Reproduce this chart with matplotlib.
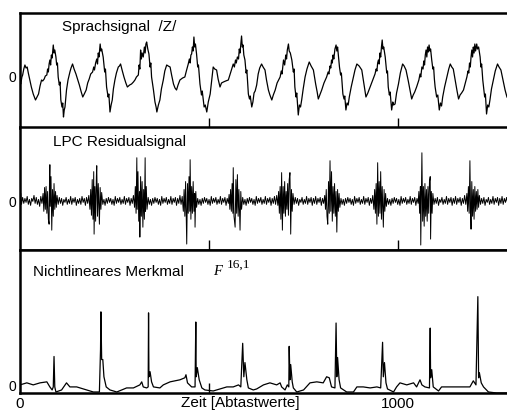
import numpy as np
import matplotlib
matplotlib.use("Agg")
import matplotlib.pyplot as plt
from matplotlib.ticker import FixedLocator, NullFormatter

plt.rcParams['font.family'] = ['Liberation Sans', 'DejaVu Sans']

# ---------------- data (sample index, amplitude) ----------------
speech = [(0,-5),(2,-7),(5,0),(7,2),(10,8),(13,12),(16,9),(19,10),(22,4),(26,-3),(30,-10),(35,-17),(38,-20),(41,-23),(45,-20),(49,-17),(53,-9),(57,-3),(60,-4),(64,-2),(67,1),(71,2),(73,8),(75,5),(77,13),(79,17),(81,12),(83,22),(85,19),(88,32),(90,24),(92,27),(95,20),(97,12),(99,14),(101,0),(104,-8),(106,-5),(108,-23),(111,-30),(113,-26),(115,-40),(117,-33),(119,-30),(123,-13),(127,-3),(132,5),(135,9),(139,13),(143,8),(148,3),(152,-2),(157,-8),(162,-15),(166,-20),(170,-17),(175,-13),(179,-6),(183,-2),(187,3),(192,5),(195,10),(197,7),(200,14),(203,18),(205,13),(207,24),(209,20),(212,33),(214,26),(216,28),(220,20),(224,5),(226,8),(229,-10),(233,-20),(235,-17),(238,-35),(241,-28),(244,-23),(247,-12),(251,-3),(255,4),(260,10),(263,11),(266,13),(270,7),(275,0),(280,-6),(284,-10),(290,-8),(295,-7),(300,-5),(304,-3),(308,0),(313,2),(315,12),(317,8),(319,27),(321,18),(323,24),(326,20),(329,30),(331,24),(333,33),(335,35),(338,28),(341,23),(344,10),(346,14),(348,0),(351,-8),(353,-13),(357,-25),(360,-30),(362,-35),(366,-28),(370,-23),(374,-12),(379,-3),(383,6),(388,12),(392,11),(397,10),(401,2),(406,-7),(410,-11),(414,-13),(418,-8),(423,-3),(430,-1),(436,0),(440,6),(445,13),(448,18),(450,14),(452,22),(454,23),(456,30),(458,26),(460,40),(462,30),(464,33),(467,23),(470,10),(472,12),(476,-7),(480,-18),(482,-14),(487,-30),(490,-28),(494,-35),(498,-25),(503,-17),(507,-3),(511,10),(515,8),(520,7),(524,-2),(529,-10),(533,-6),(538,-5),(544,-4),(551,-3),(556,3),(560,8),(564,13),(567,10),(570,17),(572,14),(575,20),(578,18),(580,28),(582,24),(584,33),(586,41),(588,30),(590,32),(592,22),(595,17),(598,4),(600,7),(604,-17),(607,-22),(609,-19),(613,-30),(616,-25),(619,-16),(622,-14),(626,-8),(630,3),(634,9),(639,13),(643,10),(648,7),(652,-3),(657,-13),(661,-18),(666,-23),(670,-18),(675,-13),(680,-6),(684,-3),(688,0),(691,6),(693,3),(697,17),(700,12),(703,22),(705,18),(707,27),(710,33),(712,26),(715,24),(719,17),(723,5),(725,8),(727,-10),(730,-20),(732,-16),(736,-38),(739,-28),(742,-30),(745,-23),(749,-12),(754,0),(759,8),(765,15),(770,11),(776,7),(782,-7),(786,-15),(789,-22),(793,-18),(798,-13),(804,-6),(811,0),(815,5),(817,3),(820,11),(822,9),(824,17),(826,14),(828,22),(830,18),(833,28),(836,32),(838,26),(840,30),(843,18),(845,10),(848,2),(850,4),(854,-17),(857,-22),(859,-19),(862,-33),(865,-26),(868,-28),(871,-20),(876,-10),(882,0),(886,7),(891,13),(897,11),(904,7),(909,-5),(915,-20),(920,-16),(926,-10),(932,-4),(939,3),(942,8),(944,6),(946,14),(948,17),(950,13),(952,24),(954,20),(956,30),(958,37),(960,28),(962,30),(966,20),(968,12),(970,4),(972,6),(974,-10),(977,-18),(979,-15),(983,-33),(986,-25),(988,-28),(992,-27),(996,-16),(1001,-7),(1006,4),(1012,13),(1016,11),(1021,7),(1027,-4),(1032,-14),(1036,-22),(1040,-18),(1044,-15),(1049,-10),(1055,-3),(1058,3),(1060,0),(1063,10),(1066,8),(1068,16),(1070,12),(1072,22),(1074,27),(1076,20),(1078,30),(1080,25),(1082,32),(1084,26),(1086,28),(1089,17),(1092,8),(1094,10),(1096,-2),(1098,-10),(1102,-20),(1105,-18),(1109,-33),(1112,-26),(1115,-29),(1118,-20),(1123,-10),(1129,0),(1134,8),(1138,13),(1142,10),(1146,8),(1151,-3),(1156,-14),(1160,-22),(1164,-18),(1168,-16),(1173,-13),(1178,-6),(1182,0),(1185,6),(1187,4),(1189,14),(1191,10),(1193,20),(1195,27),(1197,20),(1199,30),(1201,24),(1203,33),(1205,26),(1208,33),(1210,28),(1213,30),(1217,20),(1219,10),(1221,13),(1224,-3),(1226,-10),(1229,-20),(1231,-17),(1234,-37),(1237,-28),(1240,-30),(1243,-23),(1247,-12),(1252,-3),(1257,6),(1263,13),(1267,10),(1272,7),(1277,-2),(1283,-13),(1288,-20),(1292,-22)]

residual = [(0,0),(2,8),(4,-3),(7,4),(10,-2),(13,3),(16,-1),(19,5),(22,-3),(25,2),(28,-4),(31,3),(34,0),(37,6),(40,-2),(43,4),(46,-3),(49,2),(52,-5),(55,5),(58,-2),(61,8),
(63,-10),(65,14),(67,-8),(69,15),(71,-12),(73,10),(75,-18),(77,-23),(78,20),(79,37),(80,-5),(82,25),(84,-29),(86,12),(88,-15),(90,18),(92,-8),(94,10),(96,-6),(98,6),
(101,-3),(104,4),(107,-2),(110,3),(113,-4),(116,2),(119,-1),(122,4),(125,-3),(128,2),(131,-2),(134,5),(137,-3),(140,3),(143,-1),(146,4),(149,-4),(152,2),(155,-2),(158,3),(161,-3),(164,5),(167,-1),(170,3),(173,-4),(176,4),(179,-2),(182,6),
(185,-8),(187,12),(189,-14),(191,22),(193,-18),(195,30),(196,-33),(198,15),(200,-20),(202,25),(203,36),(205,-15),(207,18),(209,-10),(210,-23),(212,14),(214,-8),(216,9),
(219,-3),(222,2),(225,-4),(228,3),(231,-2),(234,4),(237,-1),(240,3),(243,-3),(246,2),(249,-4),(252,5),(255,-2),(258,3),(261,-1),(264,4),(267,-3),(270,2),(273,-2),(276,5),(279,-3),(282,3),(285,-1),(288,4),(291,-4),(294,3),(297,-2),(300,6),
(303,-6),(305,15),(307,-12),(309,44),(310,-8),(312,30),(314,-20),(316,10),(317,-36),(319,25),(321,-15),(323,20),(325,-26),(327,12),(329,-18),(331,44),(332,-10),(334,15),(336,-8),
(339,4),(342,-3),(345,2),(348,-4),(351,3),(354,-2),(357,4),(360,-1),(363,3),(366,-3),(369,2),(372,-4),(375,5),(378,-2),(381,3),(384,-1),(387,4),(390,-3),(393,2),(396,-2),(399,5),(402,-3),(405,3),(408,-1),(411,4),(414,-4),(417,3),(420,-2),(423,6),(426,-3),(429,5),
(432,-10),(434,12),(436,-15),(438,20),(440,-25),(441,-43),(443,18),(445,-12),(447,25),(449,-10),(450,42),(452,-18),(454,15),(456,-12),(458,20),(460,-10),(462,8),(463,-26),(465,10),(467,-6),
(470,3),(473,-3),(476,2),(479,-4),(482,3),(485,-2),(488,4),(491,-1),(494,3),(497,-3),(500,2),(503,-4),(506,5),(509,-2),(512,3),(515,-1),(518,4),(521,-3),(524,2),(527,-2),(530,5),(533,-3),(536,3),(539,-1),(542,4),(545,-4),(548,3),(551,-2),(553,7),
(555,-8),(557,12),(559,-10),(561,18),(563,-12),(564,34),(566,-15),(569,-26),(571,22),(573,-12),(575,27),(577,-15),(579,12),(582,-29),(584,10),(586,-8),
(589,4),(592,-3),(595,2),(598,-4),(601,3),(604,-2),(607,4),(610,-1),(613,3),(616,-3),(619,2),(622,-4),(625,5),(628,-2),(631,3),(634,-1),(637,4),(640,-3),(643,2),(646,-2),(649,5),(652,-3),(655,3),(658,-1),(661,4),(664,-4),(667,3),(670,-2),(673,5),(676,-3),(679,6),(682,-4),
(684,10),(686,-12),(688,15),(690,-18),(692,29),(694,-29),(696,15),(698,-12),(700,20),(702,-15),(704,10),(706,-8),(708,18),(710,-14),(712,22),(714,29),(716,-33),(718,12),(720,-10),(722,8),
(725,-3),(728,4),(731,-2),(734,3),(737,-4),(740,2),(743,-1),(746,4),(749,-3),(752,2),(755,-2),(758,5),(761,-3),(764,3),(767,-1),(770,4),(773,-4),(776,3),(779,-2),(782,5),(785,-3),(788,3),(791,-1),(794,4),(797,-4),(800,3),(803,-2),(806,6),
(808,-8),(810,12),(812,-15),(814,-23),(816,20),(818,-12),(820,41),(822,-10),(824,30),(826,-20),(828,15),(830,-12),(832,18),(834,-15),(836,10),(838,-31),(840,12),(842,-10),(844,8),(846,-6),
(849,3),(852,-3),(855,2),(858,-4),(861,3),(864,-2),(867,4),(870,-1),(873,3),(876,-3),(879,2),(882,-4),(885,5),(888,-2),(891,3),(894,-1),(897,4),(900,-3),(903,2),(906,-2),(909,5),(912,-3),(915,3),(918,-1),(921,4),(924,-4),(927,3),(930,-2),(933,6),
(936,-8),(938,12),(940,-12),(942,18),(944,-23),(946,39),(948,-15),(950,20),(952,-12),(954,30),(956,-18),(958,15),(960,-10),(961,-26),(963,12),(965,-10),(967,8),(969,-5),
(972,3),(975,-3),(978,2),(981,-4),(984,3),(987,-2),(990,4),(993,-1),(996,3),(999,-3),(1002,2),(1005,-4),(1008,5),(1011,-2),(1014,3),(1017,-1),(1020,4),(1023,-3),(1026,2),(1029,-2),(1032,5),(1035,-3),(1038,3),(1041,-1),(1044,4),(1047,-4),(1050,3),(1053,-2),
(1055,10),(1057,-12),(1059,15),(1060,-44),(1062,20),(1063,49),(1065,-20),(1067,15),(1069,-25),(1071,18),(1073,-15),(1075,12),(1077,-20),(1079,15),(1081,-12),(1083,20),(1085,25),(1086,-38),(1088,10),(1090,-12),(1092,8),
(1095,-3),(1098,3),(1101,-2),(1104,4),(1107,-4),(1110,2),(1113,-1),(1116,4),(1119,-3),(1122,2),(1125,-2),(1128,5),(1131,-3),(1134,3),(1137,-1),(1140,4),(1143,-4),(1146,3),(1149,-2),(1152,5),(1155,-3),(1158,3),(1161,-1),(1164,4),(1167,-4),(1170,3),(1173,-2),(1176,6),(1179,-3),
(1182,8),(1184,-10),(1186,15),(1188,-12),(1190,41),(1192,-15),(1193,-28),(1195,20),(1197,-15),(1199,12),(1201,-18),(1203,15),(1205,-10),(1207,10),(1209,-8),(1211,12),(1213,-6),(1215,6),
(1218,-3),(1221,3),(1224,-2),(1227,4),(1230,-4),(1233,2),(1236,-1),(1239,4),(1242,-3),(1245,2),(1248,-2),(1251,5),(1254,-3),(1257,3),(1260,-1),(1263,4),(1266,-4),(1269,3),(1272,-2),(1275,5),(1278,-3),(1281,3),(1284,-1),(1287,4),(1290,-2)]

feature = [(0,1),(18,3),(35,1),(53,3),(71,4),(79,-1),(85,-4),(88,-1),(90,29),(92,-1),(95,-6),(110,-4),(123,3),(132,-1),(150,-1),(176,-4),(194,-6),(210,-6),(213,36),(214,73),(216,26),(219,26),(222,9),(228,-1),(238,-4),(256,-6),(282,-2),(300,-2),(317,1),(322,4),(326,-1),(335,-2),(339,-1),(340,72),(341,9),(344,14),(348,4),(353,-1),(370,-2),(379,1),(397,4),(423,6),(436,8),(439,11),(443,3),(454,-1),(463,-1),(465,63),(466,9),(469,18),(474,6),(481,-2),(489,-4),(511,-5),(520,-4),(547,-1),(564,-1),(578,1),(584,-1),(589,42),(592,9),(595,23),(600,6),(604,-2),(617,-4),(626,-3),(644,1),(661,3),(679,1),(688,3),(692,-1),(701,-4),(707,1),(711,-1),(712,39),(714,6),(716,21),(720,4),(723,-2),(732,-6),(750,-4),(767,3),(785,4),(802,3),(811,9),(818,8),(824,-1),(833,-2),(836,62),(838,9),(840,28),(844,6),(848,-2),(864,-6),(882,-6),(891,-1),(908,-1),(926,-2),(944,-1),(954,-2),(959,43),(961,9),(964,23),(968,3),(972,-3),(988,-6),(996,-1),(1005,3),(1023,1),(1041,3),(1049,-1),(1058,6),(1063,1),(1071,-1),(1083,-2),(1085,57),(1086,8),(1089,16),(1093,-1),(1107,-5),(1115,-1),(1138,-1),(1173,-1),(1190,-1),(1199,5),(1206,1),(1211,88),(1213,8),(1215,13),(1220,3),(1226,-1),(1239,-6),(1261,-7),(1290,-7)]

titles = ["Sprachsignal  /Z/", "LPC Residualsignal", "Nichtlineares Merkmal"]
feature_symbol = "F"
feature_sup = "16,1"
xtick_vals = [0, 1000]
xtick_labels = ["0", "1000"]
xlabel = "Zeit [Abtastwerte]"

# ---------------- figure ----------------
W, H = 507, 412
fig = plt.figure(figsize=(W/100, H/100), dpi=100)

left = 20/W
width = 491.5/W
panels = [
    (speech,   (128, 115), (-51, 64), (0.085, 0.846), 0.9, [500, 1000]),
    (residual, (250, 123), (-49, 75), (0.067, 0.848), 0.7, [500, 1000]),
    (feature,  (393, 143), (-7, 134), (0.026, 0.815), 0.9, [500]),
]

for i, (data, (ybot, h), ylim, tpos, lw, minor) in enumerate(panels):
    ax = fig.add_axes([left, 1 - ybot/H, width, h/H])
    arr = np.array(data, dtype=float)
    ax.plot(arr[:, 0], arr[:, 1], color='black', lw=lw)
    ax.set_xlim(0, 1300)
    ax.set_ylim(*ylim)
    for sp in ax.spines.values():
        sp.set_linewidth(1.8)
    ax.set_yticks([0])
    ax.set_yticklabels(['0'])
    ax.tick_params(axis='y', length=0, pad=3, labelsize=10)
    ax.xaxis.remove_overlapping_locs = False
    ax.xaxis.set_minor_locator(FixedLocator(minor))
    ax.xaxis.set_minor_formatter(NullFormatter())
    ax.tick_params(axis='x', which='minor', direction='in', length=7, width=1)
    ax.set_xticks(xtick_vals)
    ax.tick_params(axis='x', which='major', length=0, pad=3, labelsize=11)
    if i < 2:
        ax.set_xticklabels([])
    else:
        ax.set_xticklabels(xtick_labels)
        ax.set_xlabel(xlabel, fontsize=11)
        ax.xaxis.set_label_coords(0.448, -0.02)
        ax.xaxis.label.set_va('top')
    ax.text(tpos[0], tpos[1], titles[i], transform=ax.transAxes,
            ha='left', va='baseline', fontsize=11)
    if i == 2:
        ax.text(0.3927, 0.826, feature_symbol, transform=ax.transAxes,
                ha='left', va='baseline', fontsize=10.5,
                family='Liberation Serif', style='italic')
        ax.text(0.4206, 0.877, feature_sup, transform=ax.transAxes,
                ha='left', va='baseline', fontsize=9.5,
                family='Liberation Serif')

fig.savefig("out.png", dpi=100)
